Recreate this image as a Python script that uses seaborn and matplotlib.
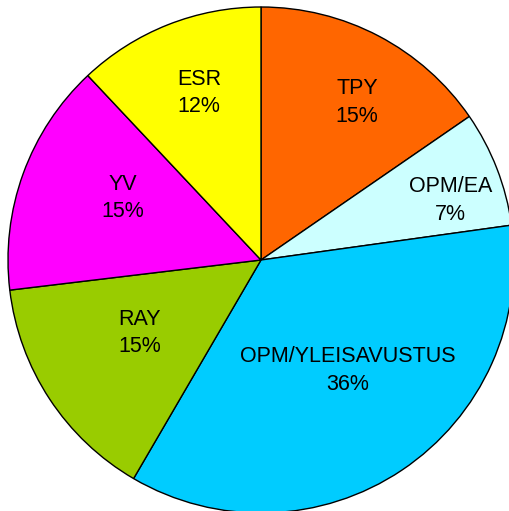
import numpy as np
import matplotlib
matplotlib.use("Agg")
import matplotlib.pyplot as plt
import seaborn as sns

categories = ["TPY", "OPM/EA", "OPM/YLEISAVUSTUS", "RAY", "YV", "ESR"]
values = [15.4, 7.4, 35.6, 14.7, 14.9, 12.0]
label_radius = [0.73, 0.786, 0.557, 0.559, 0.60, 0.704]
label_angle_shift = [-3.6, -3.9, 4.3, -2.2, -4.1, -1.2]
colors = sns.color_palette(["#FF6600", "#CCFFFF", "#00CCFF", "#99CC00", "#FF00FF", "#FFFF00"])

sns.set_style("white")
plt.rcParams["font.family"] = ["Liberation Sans", "DejaVu Sans"]

fig = plt.figure(figsize=(5.09, 5.11), dpi=100)
ax = fig.add_axes([8 / 509, (511 - 260 - 253) / 511, 506 / 509, 506 / 511])
wedges, _ = ax.pie(values, colors=colors, startangle=90, counterclock=False,
                   wedgeprops=dict(edgecolor="black", linewidth=1.0))
total = sum(values)
for w, cat, v, r, s in zip(wedges, categories, values, label_radius, label_angle_shift):
    ang = np.deg2rad((w.theta1 + w.theta2) / 2 + s)
    ax.text(r * np.cos(ang), r * np.sin(ang), f"{cat}\n{round(100 * v / total):d}%",
            ha="center", va="center", fontsize=15.5, linespacing=1.42, color="black")
ax.set_xlim(-1, 1)
ax.set_ylim(-1, 1)
ax.set_aspect("equal")
ax.axis("off")
fig.savefig("out.png", dpi=100, facecolor="white")
